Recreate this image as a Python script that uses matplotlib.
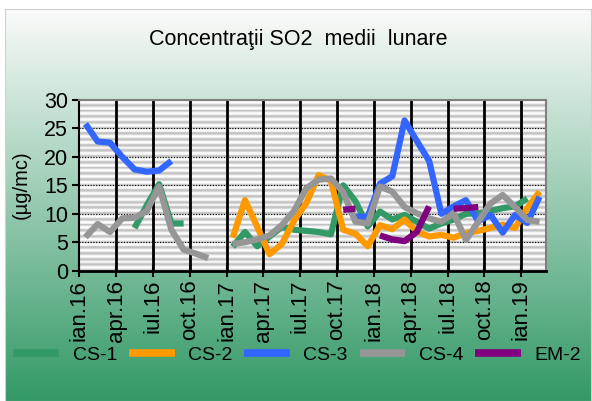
import numpy as np
import matplotlib.pyplot as plt
from matplotlib.colors import LinearSegmentedColormap

nan = np.nan

# monthly values, ian.16 .. feb.19 (38 months)
tick_labels = ["ian.16", "apr.16", "iul.16", "oct.16", "ian.17", "apr.17",
               "iul.17", "oct.17", "ian.18", "apr.18", "iul.18", "oct.18",
               "ian.19"]

series_names = ["CS-1", "CS-2", "CS-3", "CS-4", "EM-2"]

cs1 = [nan, nan, nan, nan, 7.5, 11.5, 15.2, 8.3, 8.3, nan, nan, nan,
       4.2, 6.8, 4.3, 6.0, 7.7, 7.2, 7.0, 6.8, 6.4, 15.0, 12.2, 7.8,
       10.4, 9.0, 9.8, 8.6, 7.4, 8.3, 9.0, 10.0, 10.1, 10.5, 11.0, 11.3, 12.7, nan]

cs2 = [nan, nan, nan, nan, nan, nan, nan, nan, nan, nan, nan, nan,
       5.8, 12.4, 7.7, 2.9, 4.7, 8.8, 11.9, 16.8, 15.8, 7.2, 6.5, 4.3,
       8.0, 7.3, 9.0, 6.9, 6.0, 6.3, 5.8, 6.6, 7.0, 7.5, 8.1, 7.5, 11.0, 13.9]

cs3 = [25.8, 22.7, 22.5, 20.0, 17.8, 17.4, 17.6, 19.3,
       nan, nan, nan, nan, nan, nan, nan, nan, nan, nan, nan, nan, nan, nan,
       9.5, 9.5, 15.3, 16.6, 26.4, 22.8, 19.3, 10.0, 11.3, 12.4, 8.7, 9.8,
       6.7, 9.8, 8.4, 13.0]

cs4 = [5.9, 8.2, 6.8, 9.2, 9.3, 10.5, 14.8, 7.2, 3.7, 3.0, 2.2, nan,
       4.7, 5.0, 5.5, 6.2, 8.0, 10.5, 14.5, 16.0, 16.2, 13.8, 8.6, 8.3,
       14.8, 13.9, 11.2, 10.1, 9.2, 8.6, 10.1, 5.4, 8.6, 11.8, 13.3, 11.2, 8.9, 8.6]

em2 = [nan] * 21 + [10.7, 10.9, nan, 6.2, 5.5, 5.2, 6.8, 11.3, nan,
                    10.9, 11.0, 11.2] + [nan] * 5

colors = ["#339966", "#ff9900", "#3366ff", "#969696", "#800080"]


def main():
    plt.rcParams["font.family"] = ["Liberation Sans", "DejaVu Sans"]
    fig = plt.figure(figsize=(5.92, 4.01), dpi=100)

    # chart area: white -> green gradient
    bg = fig.add_axes([5 / 592, 0, 586 / 592, 392 / 401])
    cmap = LinearSegmentedColormap.from_list("bg", ["#fafbfa", "#339966"])
    bg.imshow(np.linspace(0, 1, 256).reshape(-1, 1), aspect="auto", cmap=cmap,
              extent=[0, 1, 0, 1], origin="upper")
    bg.set_xticks([])
    bg.set_yticks([])
    for s in bg.spines.values():
        s.set_color("#d0d0d0")

    ax = fig.add_axes([79.3 / 592, 130.3 / 401, 466.4 / 592, 170.7 / 401])

    # striped plot area
    stripes = np.tile([0.76, 0.80, 0.93, 0.99, 0.96, 0.84], 30).reshape(-1, 1)
    ax.imshow(stripes, cmap="gray", vmin=0, vmax=1, aspect="auto",
              extent=[0, 38, 0, 30], origin="lower", interpolation="nearest",
              zorder=0)

    ax.hlines(range(5, 30, 5), 0, 38, colors="black", lw=0.8,
              linestyles=(0, (1, 1.5)), zorder=1)
    ax.vlines(range(3, 37, 3), 0, 30, colors="black", lw=2, zorder=1)

    x = np.arange(38) + 0.5
    for name, vals, c in zip(series_names, [cs1, cs2, cs3, cs4, em2], colors):
        ax.plot(x, vals, color=c, lw=4.5, label=name,
                solid_capstyle="butt", solid_joinstyle="round", zorder=3)

    ax.set_xlim(0, 38)
    ax.set_ylim(0, 30)
    ax.set_xticks(range(0, 37, 3))
    ax.set_xticklabels(tick_labels, rotation=90, fontsize=16)
    ax.set_yticks(range(0, 31, 5))
    ax.tick_params(axis="y", labelsize=15.5, direction="out", length=5,
                   width=1.5, pad=3)
    ax.tick_params(axis="x", direction="inout", length=9, width=1.5, pad=2)
    ax.spines["left"].set_linewidth(1.5)
    ax.spines["bottom"].set_linewidth(2)
    for s in ["top", "right"]:
        ax.spines[s].set_color("#808080")
        ax.spines[s].set_linewidth(1.5)

    fig.text(21 / 592, 1 - 185 / 401, "(µg/mc)", rotation=90, fontsize=14.5,
             ha="center", va="center")
    fig.text(298 / 592, 1 - 40 / 401, "Concentraţii SO2  medii  lunare",
             fontsize=15.5, ha="center", va="center")

    leg = fig.legend(ncol=5, loc="center", bbox_to_anchor=(0.502, 0.115),
                     frameon=False, handlelength=2.35, handletextpad=0.7,
                     columnspacing=0.6, fontsize=14)
    for line in leg.get_lines():
        line.set_linewidth(5.5)

    plt.savefig("out.png", dpi=100)


if __name__ == "__main__":
    main()
